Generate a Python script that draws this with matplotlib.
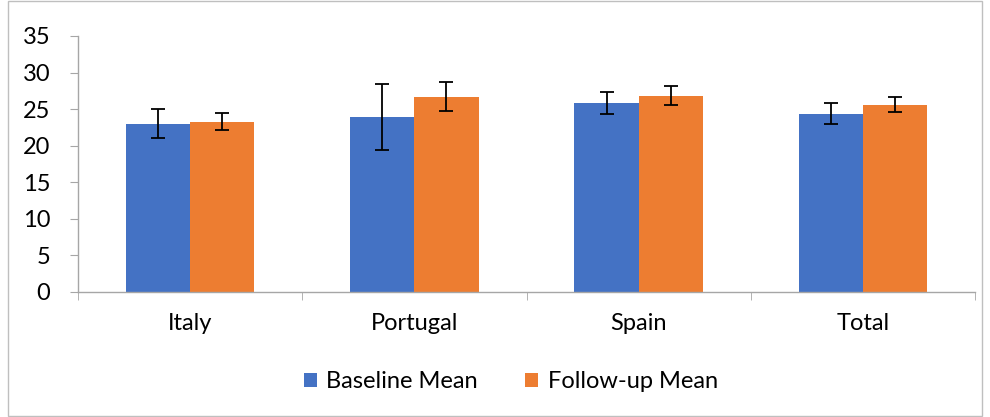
import numpy as np
import matplotlib.pyplot as plt
from matplotlib.patches import Rectangle

# values
countries = ["Italy", "Portugal", "Spain", "Total"]
baseline_mean = [23.0, 23.9, 25.8, 24.4]
baseline_err = [2.0, 4.5, 1.5, 1.4]
followup_mean = [23.3, 26.7, 26.8, 25.6]
followup_err = [1.2, 2.0, 1.3, 1.0]
yticks = [0, 5, 10, 15, 20, 25, 30, 35]

BLUE = "#4472C4"
ORANGE = "#ED7D31"
AXIS_GREY = "#A6A6A6"
FONT_SIZE = 17

plt.rcParams['font.family'] = ['Lato', 'DejaVu Sans']

fig = plt.figure(figsize=(9.9, 4.17), dpi=100)
ax = fig.add_axes([78/990, 1 - 292/417, (975-78)/990, (292-36)/417])

x = np.arange(len(countries))
w = 0.286
errStyle = dict(ecolor="black", elinewidth=1.3, capsize=5, capthick=1.3)
ax.bar(x - w/2, baseline_mean, w, color=BLUE, yerr=baseline_err, error_kw=errStyle, label="Baseline Mean")
ax.bar(x + w/2, followup_mean, w, color=ORANGE, yerr=followup_err, error_kw=errStyle, label="Follow-up Mean")

ax.set_xlim(-0.5, len(countries) - 0.5)
ax.set_ylim(0, 35)
ax.set_yticks(yticks)
ax.set_xticks(x)
ax.set_xticklabels(countries)
ax.set_xticks(np.arange(len(countries) + 1) - 0.5, minor=True)

for s in ["top", "right"]:
    ax.spines[s].set_visible(False)
for s in ["left", "bottom"]:
    ax.spines[s].set_color(AXIS_GREY)
    ax.spines[s].set_linewidth(1.0)

ax.tick_params(axis="y", colors=AXIS_GREY, labelcolor="black", labelsize=FONT_SIZE, length=6, pad=14)
ax.tick_params(axis="x", which="major", length=0, labelsize=FONT_SIZE, pad=15, labelcolor="black")
ax.tick_params(axis="x", which="minor", length=6, color=AXIS_GREY)

fig.legend(loc="center", bbox_to_anchor=(0.516, 1 - 382/417), ncol=2, frameon=False,
           fontsize=FONT_SIZE, handlelength=0.55, handleheight=0.55, columnspacing=2.0, handletextpad=0.4)

# outer chart border
fig.patches.append(Rectangle((8/990, 0.002), 1 - 16/990, 0.996, transform=fig.transFigure,
                             fill=False, edgecolor="#BFBFBF", linewidth=1.0))

fig.savefig("out.png", dpi=100)
